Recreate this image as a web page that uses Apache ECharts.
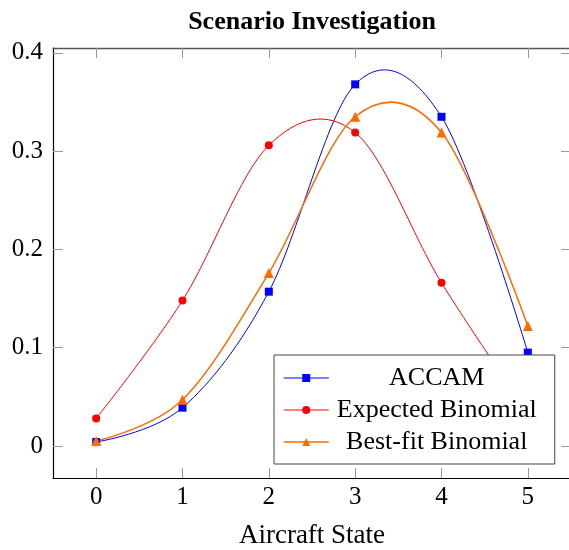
<!DOCTYPE html>
<html>
<head>
<meta charset="utf-8">
<script src="https://cdn.jsdelivr.net/npm/echarts@6/dist/echarts.min.js"></script>
<style>html,body{margin:0;padding:0;background:#fff;}#chart{width:569px;height:550px;}</style>
</head>
<body>
<div id="chart"></div>
<script>
const titleText = 'Scenario Investigation';
const xName = 'Aircraft State';
const states = [0, 1, 2, 3, 4, 5];
const yTicks = [0, 0.1, 0.2, 0.3, 0.4];
const seriesNames = ['ACCAM', 'Expected Binomial', 'Best-fit Binomial'];
const accam = [0.004, 0.039, 0.157, 0.368, 0.335, 0.095];
const expectedBinomial = [0.028, 0.148, 0.306, 0.319, 0.166, 0.034];
const bestFitBinomial = [0.005, 0.047, 0.176, 0.335, 0.319, 0.122];

const FONT = '"Liberation Serif", "DejaVu Serif", serif';
const COLORS = ['#0000ff', '#ff0000', '#ff6a00'];
const WIDTHS = [1, 1, 1.5];
const SYMBOLS = ['rect', 'circle', 'triangle'];
const SIZES = [8, 8, 10];
const VALUES = [accam, expectedBinomial, bestFitBinomial];
const pairs = arr => states.map((x, i) => [x, arr[i]]);
const TENSION = 1 / 6;

// smooth curve (TikZ-like cardinal spline) drawn through the axis scales
function smoothSeries(arr, color, width) {
  return {
    type: 'custom', name: '_curve', silent: true, z: 2, clip: true,
    coordinateSystem: 'cartesian2d',
    data: states.slice(0, -1).map((x, i) => [x, arr[i]]),
    encode: { x: 0, y: 1 },
    renderItem: function (params, api) {
      const n = arr.length, i = params.dataIndex;
      const P = j => api.coord([states[j], arr[j]]);
      const p0 = P(Math.max(i - 1, 0)), p1 = P(i), p2 = P(i + 1), p3 = P(Math.min(i + 2, n - 1));
      const c1 = i === 0 ? p1 : [p1[0] + (p2[0] - p0[0]) * TENSION, p1[1] + (p2[1] - p0[1]) * TENSION];
      const c2 = i + 1 === n - 1 ? p2 : [p2[0] - (p3[0] - p1[0]) * TENSION, p2[1] - (p3[1] - p1[1]) * TENSION];
      return {
        type: 'bezierCurve',
        shape: { x1: p1[0], y1: p1[1], x2: p2[0], y2: p2[1], cpx1: c1[0], cpy1: c1[1], cpx2: c2[0], cpy2: c2[1] },
        style: { stroke: color, lineWidth: width, fill: null }
      };
    }
  };
}

const series = [];
VALUES.forEach((arr, k) => series.push(smoothSeries(arr, COLORS[k], WIDTHS[k])));
VALUES.forEach((arr, k) => series.push({
  name: seriesNames[k], type: 'line', data: pairs(arr), z: 3,
  symbol: SYMBOLS[k], symbolSize: SIZES[k],
  lineStyle: { color: COLORS[k], width: 0, opacity: 0 },
  itemStyle: { color: COLORS[k] }
}));

const chart = echarts.init(document.getElementById('chart'));
const tickStyle = { show: true, inside: true, length: 10, lineStyle: { color: '#999', width: 1 } };
chart.setOption({
  backgroundColor: '#fff',
  animation: false,
  title: {
    text: titleText, left: 307, textAlign: 'center', top: 4,
    textStyle: { fontFamily: FONT, fontSize: 26, fontWeight: 'bold', color: '#000' }
  },
  grid: { left: 53, top: 48, width: 518, height: 430, containLabel: false, outerBoundsMode: 'none' },
  legend: {
    orient: 'vertical', left: 274, top: 355,
    padding: [7, 15, 6, 9],
    backgroundColor: '#fff', borderColor: '#444', borderWidth: 1, borderRadius: 0,
    itemWidth: 45, itemHeight: 10, itemGap: 0, itemTextGap: 7,
    formatter: n => '{c|' + n + '}',
    textStyle: {
      fontFamily: FONT, fontSize: 26, color: '#000', lineHeight: 32,
      rich: { c: { width: 206, align: 'center', fontFamily: FONT, fontSize: 26, lineHeight: 32, color: '#000' } }
    },
    data: seriesNames.map((n, k) => ({ name: n, lineStyle: { color: COLORS[k], width: WIDTHS[k], opacity: 1 } }))
  },
  xAxis: [{
    type: 'value', min: -0.5, max: 5.5, position: 'bottom',
    name: xName, nameLocation: 'middle', nameGap: 44,
    nameTextStyle: { fontFamily: FONT, fontSize: 27, color: '#000' },
    axisLine: { show: true, onZero: false, lineStyle: { color: '#000', width: 1.2 } },
    axisTick: Object.assign({ customValues: states }, tickStyle),
    axisLabel: { customValues: states, margin: 7, fontFamily: FONT, fontSize: 25, color: '#000' },
    splitLine: { show: false }
  }, {
    type: 'value', min: -0.5, max: 5.5, position: 'top',
    axisLine: { show: true, onZero: false, lineStyle: { color: '#555', width: 1.3 } },
    axisTick: Object.assign({ customValues: states }, tickStyle),
    axisLabel: { show: false }, splitLine: { show: false }
  }],
  yAxis: [{
    type: 'value', min: -0.0326, max: 0.405, position: 'left',
    axisLine: { show: true, onZero: false, lineStyle: { color: '#000', width: 1.2 } },
    axisTick: Object.assign({ customValues: yTicks }, tickStyle),
    axisLabel: { customValues: yTicks, margin: 10, fontFamily: FONT, fontSize: 25, color: '#000',
      formatter: v => (Math.abs(v) < 1e-9 ? '0' : String(Math.round(v * 10) / 10)) },
    splitLine: { show: false }
  }, {
    type: 'value', min: -0.0326, max: 0.405, position: 'right',
    axisLine: { show: true, onZero: false, lineStyle: { color: '#555', width: 1.3 } },
    axisTick: Object.assign({ customValues: yTicks }, tickStyle),
    axisLabel: { show: false }, splitLine: { show: false }
  }],
  series: series
});
</script>
</body>
</html>
